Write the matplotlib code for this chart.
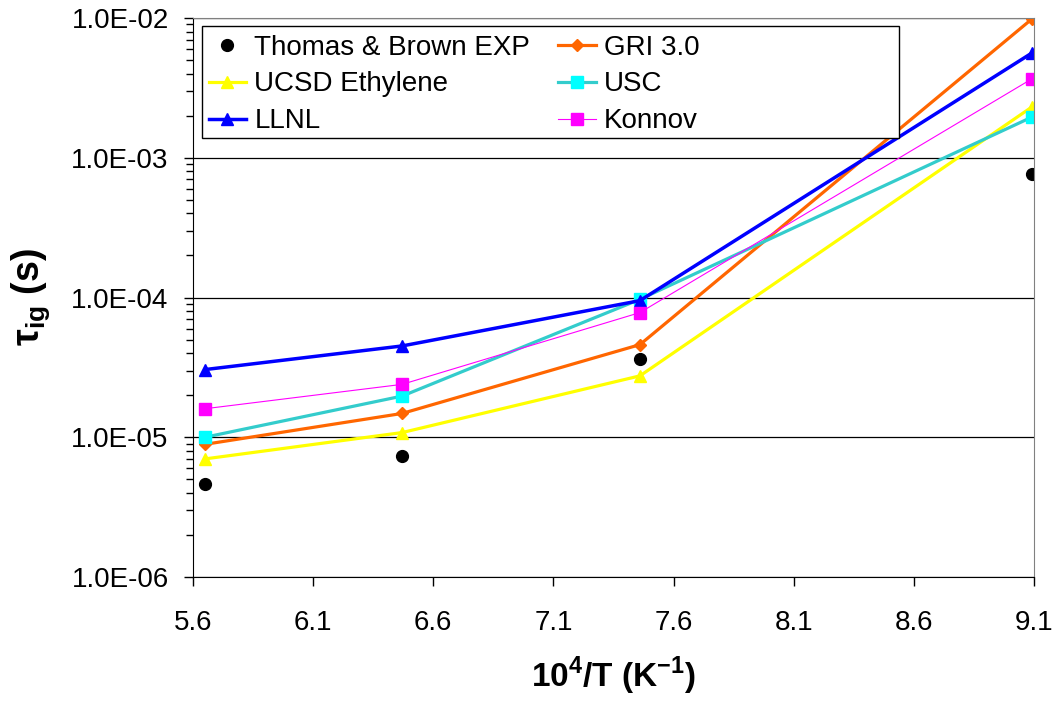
import numpy as np
import matplotlib
matplotlib.use('Agg')
import matplotlib.pyplot as plt
from matplotlib.patches import Rectangle
from matplotlib.ticker import FixedLocator, FuncFormatter, LogLocator, NullFormatter

plt.rcParams['font.family'] = ['Liberation Sans', 'DejaVu Sans']
plt.rcParams['mathtext.fontset'] = 'custom'
plt.rcParams['mathtext.rm'] = 'Liberation Sans'
plt.rcParams['mathtext.bf'] = 'Liberation Sans:bold'

# ── Data (10^4/T vs ignition delay, s) ───────────────────────────────────────
inv_T    = [5.65, 6.47, 7.46, 9.09]
exp_tb   = [4.6e-6, 7.4e-6, 3.65e-5, 7.7e-4]
gri30    = [8.9e-6, 1.48e-5, 4.6e-5, 9.8e-3]
ucsd     = [7.0e-6, 1.08e-5, 2.75e-5, 2.3e-3]
usc      = [1.0e-5, 1.97e-5, 9.7e-5, 1.95e-3]
llnl     = [3.05e-5, 4.5e-5, 9.5e-5, 5.6e-3]
konnov   = [1.6e-5, 2.39e-5, 7.8e-5, 3.66e-3]

x_ticks = [5.6, 6.1, 6.6, 7.1, 7.6, 8.1, 8.6, 9.1]
y_ticks = [1e-6, 1e-5, 1e-4, 1e-3, 1e-2]

W, H = 1060, 704
fig = plt.figure(figsize=(W / 100, H / 100), dpi=100)
ax = fig.add_axes([193 / W, 1 - 577 / H, (1034 - 193) / W, (577 - 18) / H])

h_exp, = ax.plot(inv_T, exp_tb, 'o', color='black', ms=8.5, ls='none',
                 label='Thomas & Brown EXP')
h_gri, = ax.plot(inv_T, gri30, '-D', color='#FF6600', lw=2.3, ms=6.5,
                 label='GRI 3.0')
h_ucsd, = ax.plot(inv_T, ucsd, '-^', color='#FFFF00', lw=2.3, ms=9,
                  label='UCSD Ethylene')
h_usc, = ax.plot(inv_T, usc, '-s', color='#33CCCC', mfc='#00FFFF', mec='#00FFFF',
                 lw=2.3, ms=8, label='USC')
h_llnl, = ax.plot(inv_T, llnl, '-^', color='#0000FF', lw=2.5, ms=9,
                  label='LLNL')
h_kon, = ax.plot(inv_T, konnov, '-s', color='#FF00FF', lw=0.8, ms=8,
                 label='Konnov')

ax.set_yscale('log')
ax.set_xlim(5.6, 9.1)
ax.set_ylim(1e-6, 1e-2)
ax.xaxis.set_major_locator(FixedLocator(x_ticks))
ax.xaxis.set_major_formatter(FuncFormatter(lambda v, p: f'{v:.1f}'))
ax.yaxis.set_major_locator(FixedLocator(y_ticks))
ax.yaxis.set_major_formatter(FuncFormatter(lambda v, p: f'{v:.1E}'))
ax.yaxis.set_minor_locator(LogLocator(base=10, subs=np.arange(2, 10)))
ax.yaxis.set_minor_formatter(NullFormatter())

ax.grid(True, axis='y', which='major', color='black', lw=0.9)
ax.set_axisbelow(True)
ax.tick_params(axis='both', which='major', direction='out', length=6.5,
               width=1, labelsize=20)
ax.tick_params(axis='y', which='minor', direction='out', length=5, width=1)
ax.tick_params(axis='y', which='major', pad=11)
ax.tick_params(axis='x', pad=17)

for s in ['top', 'right']:
    ax.spines[s].set_color('#808080')
for s in ['left', 'bottom']:
    ax.spines[s].set_color('black')

ax.set_xlabel(r'10$^{\mathbf{4}}$/T (K$^{\mathbf{-1}}$)', fontsize=24,
              fontweight='bold', labelpad=14)
ax.set_ylabel(r'τ$_{\mathbf{ig}}$ (s)', fontsize=27, fontweight='bold',
              labelpad=14)

# legend entries, column by column as in the original
handles = [h_exp, h_ucsd, h_llnl, h_gri, h_usc, h_kon]
leg = ax.legend(handles=handles, loc='upper left', ncol=2,
                bbox_to_anchor=(203 / W, 1 - 29 / H),
                bbox_transform=fig.transFigure, borderaxespad=0,
                fontsize=20, frameon=False, handlelength=1.35,
                handletextpad=0.3, columnspacing=1.0, labelspacing=0.39,
                borderpad=0.2)

# the legend box in the original is wider than its entries
box = Rectangle((202 / W, 1 - 138 / H), (899 - 202) / W, (138 - 26) / H,
                transform=fig.transFigure, fill=True, facecolor='white',
                edgecolor='black', lw=1.0, zorder=4)
ax.add_artist(box)
box.set_clip_on(False)
leg.set_zorder(5)

fig.savefig('out.png', dpi=100)
